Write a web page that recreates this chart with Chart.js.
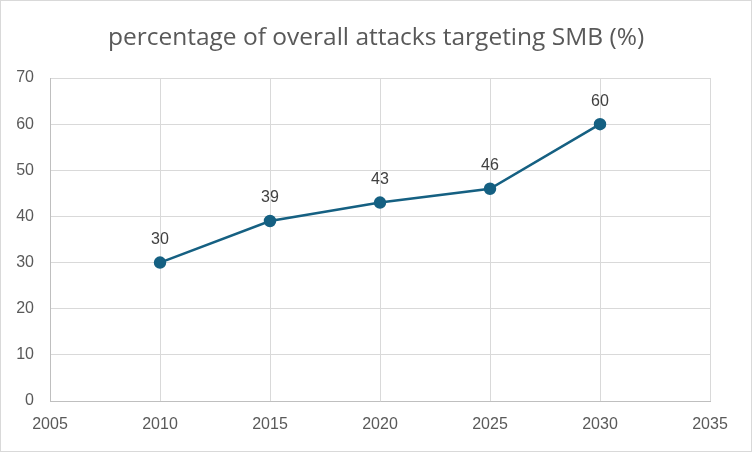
<!DOCTYPE html>
<html>
<head>
<meta charset="utf-8">
<script src="https://cdn.jsdelivr.net/npm/chart.js@4"></script>
<style>
  html, body { margin: 0; padding: 0; background: #fff; }
  #wrap { width: 752px; height: 452px; position: relative; }
</style>
</head>
<body>
<div id="wrap"><canvas id="chart" width="752" height="452"></canvas></div>
<script>
// chart data
const chartTitle = 'percentage of overall attacks targeting SMB (%)';
const years = [2010, 2015, 2020, 2025, 2030];
const shares = [30, 39, 43, 46, 60];
const xRange = [2005, 2035];
const yRange = [0, 70];

const lineColor = '#156082';
const textColor = '#595959';

// draws the numbers above each point, plus title and outer frame
const labelsPlugin = {
    id: 'labels',
    afterDatasetsDraw(chart) {
        const ctx = chart.ctx;
        const meta = chart.getDatasetMeta(0);
        ctx.save();
        ctx.font = '16px "Liberation Sans", Arial, sans-serif';
        ctx.fillStyle = '#404040';
        ctx.textAlign = 'center';
        ctx.textBaseline = 'middle';
        meta.data.forEach((pt, i) => {
            ctx.fillText(String(shares[i]), pt.x, pt.y - 23);
        });
        ctx.restore();
    },
    afterDraw(chart) {
        const ctx = chart.ctx;
        ctx.save();
        ctx.font = '24.5px "Open Sans", "Liberation Sans", sans-serif';
        ctx.fillStyle = textColor;
        ctx.textAlign = 'center';
        ctx.textBaseline = 'middle';
        ctx.fillText(chartTitle, 376, 38);
        ctx.strokeStyle = '#d9d9d9';
        ctx.lineWidth = 1;
        ctx.strokeRect(0.5, 0.5, chart.width - 1, chart.height - 1);
        ctx.restore();
    }
};

new Chart(document.getElementById('chart').getContext('2d'), {
    type: 'line',
    data: {
        datasets: [{
            data: years.map((y, i) => ({ x: y, y: shares[i] })),
            borderColor: lineColor,
            backgroundColor: lineColor,
            borderWidth: 2.5,
            pointRadius: 5,
            pointHoverRadius: 5,
            fill: false,
            tension: 0,
        }]
    },
    options: {
        responsive: false,
        animation: false,
        layout: { padding: { top: 78, right: 42, left: 0, bottom: 0 } },
        plugins: {
            legend: { display: false },
            tooltip: { enabled: false },
        },
        scales: {
            x: {
                type: 'linear',
                min: xRange[0],
                max: xRange[1],
                ticks: {
                    stepSize: 5,
                    color: textColor,
                    font: { size: 16, family: '"Liberation Sans", Arial, sans-serif' },
                    padding: 14,
                    callback: v => String(v),
                },
                grid: { color: '#d9d9d9', drawTicks: false },
                border: { color: '#bfbfbf' },
                afterFit(scale) { scale.height = 51; },
            },
            y: {
                min: yRange[0],
                max: yRange[1],
                ticks: {
                    stepSize: 10,
                    color: textColor,
                    font: { size: 16, family: '"Liberation Sans", Arial, sans-serif' },
                    padding: 16,
                },
                grid: { color: '#d9d9d9', drawTicks: false },
                border: { color: '#bfbfbf' },
                afterFit(scale) { scale.width = 50; },
            }
        }
    },
    plugins: [labelsPlugin]
});
</script>
</body>
</html>
